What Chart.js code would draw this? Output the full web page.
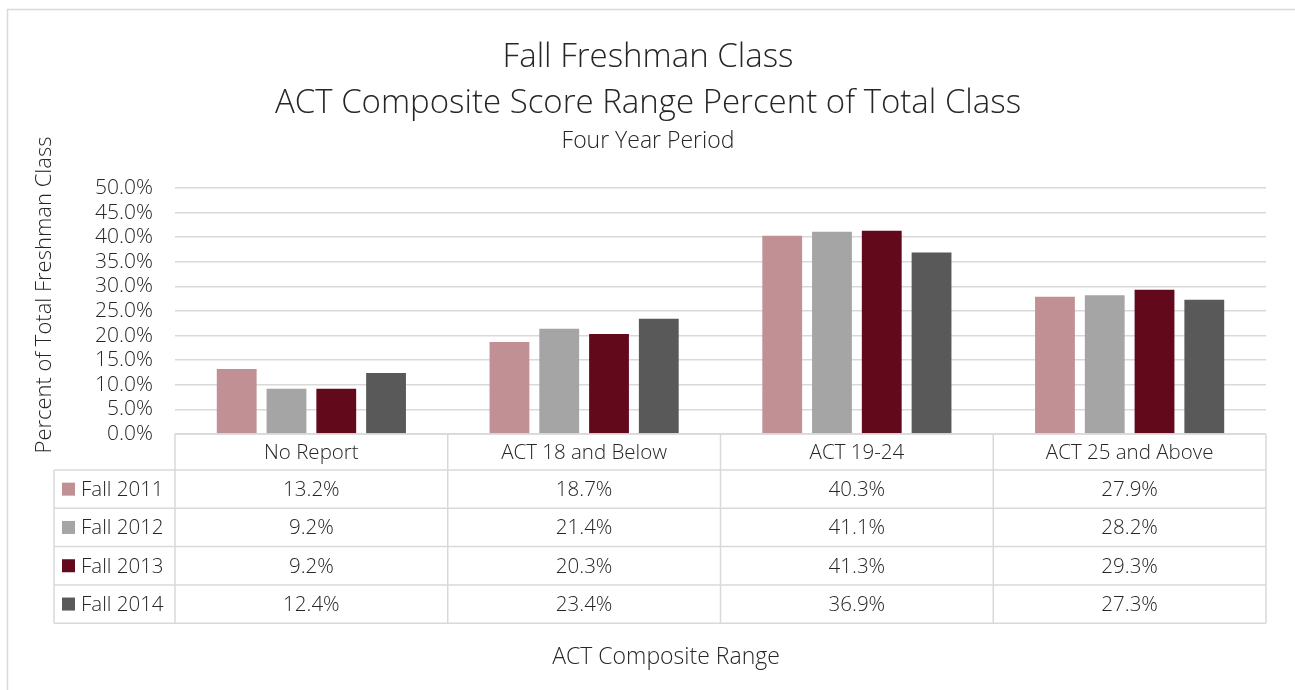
<!DOCTYPE html>
<html>
<head>
<meta charset="utf-8">
<script src="https://cdn.jsdelivr.net/npm/chart.js@4.4.0/dist/chart.umd.min.js"></script>
<style>
  html, body { margin: 0; padding: 0; background: #fff; }
  #wrap { width: 1295px; height: 690px; position: relative; }
</style>
</head>
<body>
<div id="wrap"><canvas id="actChart" width="1295" height="690"></canvas></div>
<script>
const categories = ['No Report', 'ACT 18 and Below', 'ACT 19-24', 'ACT 25 and Above'];
const seriesNames = ['Fall 2011', 'Fall 2012', 'Fall 2013', 'Fall 2014'];
const fall2011 = [13.2, 18.7, 40.3, 27.9];
const fall2012 = [9.2, 21.4, 41.1, 28.2];
const fall2013 = [9.2, 20.3, 41.3, 29.3];
const fall2014 = [12.4, 23.4, 36.9, 27.3];
const colors = ['#C09095', '#A5A5A5', '#620A1C', '#595959'];

const fontFamily = '"Open Sans", "Segoe UI", sans-serif';
const textColor = '#262626';
const lineColor = '#D9D9D9';

const seriesValues = [fall2011, fall2012, fall2013, fall2014];

// draws the outer frame, the data table with legend keys and the axis titles
const tablePlugin = {
    id: 'dataTable',
    beforeDraw(chart) {
        const c = chart.ctx;
        c.save();
        c.strokeStyle = lineColor;
        c.lineWidth = 1.5;
        c.strokeRect(7.5, 9.5, 1300, 700);
        c.restore();
    },
    afterDraw(chart) {
        const c = chart.ctx;
        const x = chart.scales.x;
        const area = chart.chartArea;
        const half = (x.getPixelForValue(1) - x.getPixelForValue(0)) / 2;
        const top = area.bottom;
        const headerH = 36;
        const rowH = 38.3;
        const legendLeft = 54;
        const bottom = top + headerH + rowH * seriesNames.length;

        c.save();
        c.strokeStyle = lineColor;
        c.lineWidth = 1.5;
        c.beginPath();
        // header box
        c.moveTo(area.left, top); c.lineTo(area.right, top);
        // row lines
        for (let r = 0; r <= seriesNames.length; r++) {
            const y = top + headerH + rowH * r;
            c.moveTo(legendLeft, y); c.lineTo(area.right, y);
        }
        // vertical lines
        c.moveTo(legendLeft, top + headerH); c.lineTo(legendLeft, bottom);
        c.moveTo(area.left, top); c.lineTo(area.left, bottom);
        categories.forEach((_, i) => {
            const xr = x.getPixelForValue(i) + half;
            c.moveTo(xr, top); c.lineTo(xr, bottom);
        });
        c.stroke();

        c.fillStyle = textColor;
        c.font = '300 20.5px ' + fontFamily;
        c.textAlign = 'center';
        c.textBaseline = 'middle';
        categories.forEach((cat, i) => {
            const cx = x.getPixelForValue(i);
            c.fillText(cat, cx, top + headerH / 2 + 1);
            seriesValues.forEach((vals, s) => {
                c.fillText(vals[i].toFixed(1) + '%', cx, top + headerH + rowH * s + rowH / 2 + 1);
            });
        });

        c.textAlign = 'left';
        seriesNames.forEach((name, s) => {
            const cy = top + headerH + rowH * s + rowH / 2;
            c.fillStyle = colors[s];
            c.fillRect(legendLeft + 8, cy - 6.5, 13, 13);
            c.fillStyle = textColor;
            c.fillText(name, legendLeft + 27, cy + 1);
        });

        c.font = '300 23px ' + fontFamily;
        c.textAlign = 'center';
        c.fillText('ACT Composite Range', 666, 657);

        // y axis title
        c.translate(45, 295);
        c.rotate(-Math.PI / 2);
        c.font = '300 22px ' + fontFamily;
        c.fillText('Percent of Total Freshman Class', 0, 0);
        c.restore();
    }
};

const ctx = document.getElementById('actChart').getContext('2d');
const actChart = new Chart(ctx, {
    type: 'bar',
    data: {
        labels: categories,
        datasets: seriesNames.map((name, i) => ({
            label: name,
            data: seriesValues[i],
            backgroundColor: colors[i],
            borderWidth: 0,
            categoryPercentage: 0.73,
            barPercentage: 0.8
        }))
    },
    options: {
        responsive: false,
        animation: false,
        layout: { padding: { left: 30, right: 29, top: 10, bottom: 10 } },
        scales: {
            x: {
                grid: { display: false },
                border: { display: false },
                ticks: { display: false },
                afterFit(scale) { scale.height = 246; }
            },
            y: {
                min: 0,
                max: 50,
                ticks: {
                    stepSize: 5,
                    autoSkip: false,
                    color: textColor,
                    padding: 22,
                    font: { family: fontFamily, size: 21, weight: '300', lineHeight: 1 },
                    callback: v => v.toFixed(1) + '%'
                },
                grid: { color: lineColor, lineWidth: 1.5, drawTicks: false },
                border: { display: false },
                afterFit(scale) { scale.width = 145; }
            }
        },
        plugins: {
            legend: { display: false },
            tooltip: { enabled: false },
            title: {
                display: true,
                text: ['Fall Freshman Class', 'ACT Composite Score Range Percent of Total Class'],
                color: textColor,
                font: { family: fontFamily, size: 33, weight: '300', lineHeight: 1.4 },
                padding: { top: 24, bottom: 0 }
            },
            subtitle: {
                display: true,
                text: 'Four Year Period',
                color: textColor,
                font: { family: fontFamily, size: 23, weight: '300' },
                padding: { top: 1, bottom: 33 }
            }
        }
    },
    plugins: [tablePlugin]
});
</script>
</body>
</html>
